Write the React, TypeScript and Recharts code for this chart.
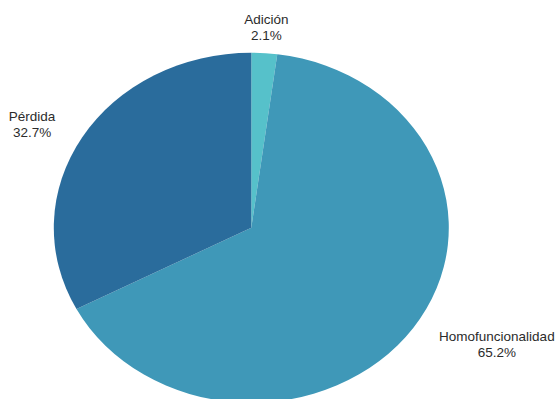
import React from 'react';
import { PieChart, Pie, Cell } from 'recharts';

const categories = ['Adición', 'Homofuncionalidad', 'Pérdida'];
const percentages = [2.1, 65.2, 32.7];
const colors = ['#56c1ca', '#3f98b8', '#2a6c9c'];

const data = categories.map((name, i) => ({ name, value: percentages[i] }));

const RADIAN = Math.PI / 180;
const Y_SCALE = 175 / 197.5;
const FONT_SIZE = 13.5;
const FONT_FAMILY = "'Liberation Sans', Arial, sans-serif";

const measure = (() => {
  let ctx: CanvasRenderingContext2D | null = null;
  return (s: string) => {
    if (!ctx) ctx = document.createElement('canvas').getContext('2d');
    if (!ctx) return s.length * 7.3;
    ctx.font = `${FONT_SIZE}px ${FONT_FAMILY}`;
    return ctx.measureText(s).width;
  };
})();

// elliptical sector, the reference pie is squashed vertically
const EllipseSector = (props: any) => {
  const { cx, cy, outerRadius, startAngle, endAngle, fill } = props;
  const rx = outerRadius;
  const ry = outerRadius * Y_SCALE;
  const pt = (a: number) => [cx + rx * Math.cos(a * RADIAN), cy - ry * Math.sin(a * RADIAN)];
  const [x1, y1] = pt(startAngle);
  const [x2, y2] = pt(endAngle);
  const large = Math.abs(startAngle - endAngle) > 180 ? 1 : 0;
  const sweep = startAngle > endAngle ? 1 : 0;
  const d = `M${cx},${cy} L${x1},${y1} A${rx},${ry} 0 ${large} ${sweep} ${x2},${y2} Z`;
  return <path d={d} fill={fill} stroke="none" />;
};

const renderLabel = (props: any) => {
  const { cx, cy, midAngle, outerRadius, name, value } = props;
  const cos = Math.cos(midAngle * RADIAN);
  const sin = Math.sin(midAngle * RADIAN);
  const ax = cx + (outerRadius + 31.5) * cos;
  const ay = cy - (outerRadius * Y_SCALE + 27) * sin;
  const line2 = `${value.toFixed(1)}%`;
  const w = Math.max(measure(name), measure(line2));
  let x = ax;
  if (cos > 0.2) x = ax + w / 2;
  else if (cos < -0.2) x = ax - w / 2;
  return (
    <text x={x} y={ay} textAnchor="middle" fill="#2b2b2b" fontSize={FONT_SIZE} fontFamily={FONT_FAMILY}>
      <tspan x={x} y={ay - 2.6}>{name}</tspan>
      <tspan x={x} y={ay + 13.4}>{line2}</tspan>
    </text>
  );
};

export default function App() {
  return (
    <div style={{ position: 'absolute', left: 0, top: 0, width: 557, height: 399, background: '#ffffff' }}>
      <PieChart width={557} height={399} margin={{ top: 0, right: 0, bottom: 0, left: 0 }}>
        <Pie
          data={data}
          dataKey="value"
          nameKey="name"
          cx={251.3}
          cy={227.7}
          outerRadius={197.5}
          startAngle={90}
          endAngle={-270}
          stroke="none"
          label={renderLabel}
          labelLine={false}
          shape={EllipseSector}
          activeShape={EllipseSector}
          inactiveShape={EllipseSector}
          isAnimationActive={false}
        >
          {data.map((entry, i) => (
            <Cell key={entry.name} fill={colors[i]} />
          ))}
        </Pie>
      </PieChart>
    </div>
  );
}
